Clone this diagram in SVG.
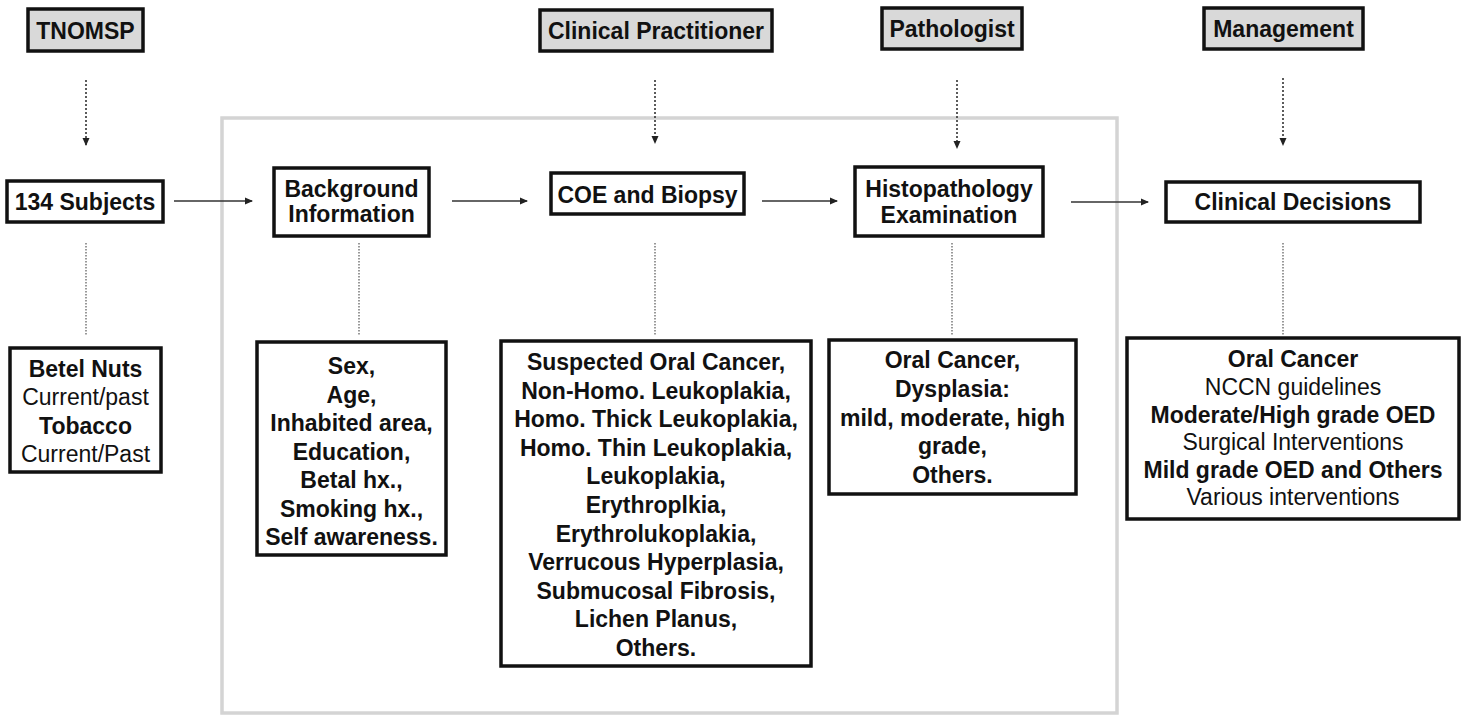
<svg xmlns="http://www.w3.org/2000/svg" width="1465" height="715" viewBox="0 0 1465 715">
<defs>
<style>
.box{fill:#fff;stroke:#111;stroke-width:3.5}
.hdr{fill:#d9d9d9;stroke:#111;stroke-width:3.5}
.frame{fill:none;stroke:#d4d4d4;stroke-width:3.5}
text{font-family:"Liberation Sans",Arial,sans-serif;font-size:23px;fill:#111;text-anchor:middle}
.b{font-weight:bold}
.flow{stroke:#333;stroke-width:1.6;fill:none}
.dot{stroke:#333;stroke-width:1.6;fill:none;stroke-dasharray:2 2}
.dline{stroke:#555;stroke-width:1.2;fill:none;stroke-dasharray:1.5 1.5}
</style>
<marker id="ah" markerWidth="8" markerHeight="8" refX="7" refY="4" orient="auto" markerUnits="userSpaceOnUse">
<path d="M0,0.5 L8,4 L0,7.5 Z" fill="#222"/>
</marker>
</defs>
<rect width="1465" height="715" fill="#fff"/>
<rect class="frame" x="222" y="118" width="895" height="595"/>

<g id="connectors">
<line class="dot" x1="86" y1="80" x2="86" y2="145" marker-end="url(#ah)"/>
<line class="dot" x1="655" y1="80" x2="655" y2="143" marker-end="url(#ah)"/>
<line class="dot" x1="957" y1="80" x2="957" y2="148" marker-end="url(#ah)"/>
<line class="dot" x1="1283" y1="78" x2="1283" y2="145" marker-end="url(#ah)"/>
<line class="flow" x1="174" y1="201" x2="252" y2="201" marker-end="url(#ah)"/>
<line class="flow" x1="452" y1="201" x2="527" y2="201" marker-end="url(#ah)"/>
<line class="flow" x1="762" y1="201" x2="837" y2="201" marker-end="url(#ah)"/>
<line class="flow" x1="1071" y1="202" x2="1148" y2="202" marker-end="url(#ah)"/>
<line class="dline" x1="86" y1="243" x2="86" y2="335"/>
<line class="dline" x1="359" y1="243" x2="359" y2="335"/>
<line class="dline" x1="655" y1="243" x2="655" y2="335"/>
<line class="dline" x1="952" y1="243" x2="952" y2="335"/>
<line class="dline" x1="1283" y1="243" x2="1283" y2="335"/>
</g>

<g id="tnomsp"><rect class="hdr" x="28" y="9" width="115" height="42"/><text class="b" x="85.5" y="39">TNOMSP</text></g>
<g id="clinical-practitioner"><rect class="hdr" x="540" y="10" width="232" height="41"/><text class="b" x="656" y="39">Clinical Practitioner</text></g>
<g id="pathologist"><rect class="hdr" x="882" y="8" width="140" height="41"/><text class="b" x="952" y="37">Pathologist</text></g>
<g id="management"><rect class="hdr" x="1204" y="8" width="159" height="41"/><text class="b" x="1283.5" y="37">Management</text></g>

<g id="subjects"><rect class="box" x="7" y="181" width="156" height="41"/><text class="b" x="85" y="210">134 Subjects</text></g>
<g id="background"><rect class="box" x="274" y="168" width="155" height="68"/><text class="b" x="351.5" y="197">Background</text><text class="b" x="351.5" y="222">Information</text></g>
<g id="coe"><rect class="box" x="551" y="173" width="193" height="41"/><text class="b" x="647.5" y="203">COE and Biopsy</text></g>
<g id="histo"><rect class="box" x="855" y="167" width="188" height="69"/><text class="b" x="949" y="197">Histopathology</text><text class="b" x="949" y="223">Examination</text></g>
<g id="decisions"><rect class="box" x="1166" y="182" width="254" height="40"/><text class="b" x="1293" y="210">Clinical Decisions</text></g>

<g id="risk"><rect class="box" x="10" y="348" width="151" height="124"/>
<text class="b" x="85.5" y="377">Betel Nuts</text>
<text x="85.5" y="405">Current/past</text>
<text class="b" x="85.5" y="434">Tobacco</text>
<text x="85.5" y="462">Current/Past</text></g>

<g id="background-items"><rect class="box" x="257" y="342" width="189" height="213"/>
<text class="b" x="351.5" y="374">Sex,</text>
<text class="b" x="351.5" y="402.5">Age,</text>
<text class="b" x="351.5" y="431">Inhabited area,</text>
<text class="b" x="351.5" y="459.5">Education,</text>
<text class="b" x="351.5" y="488">Betal hx.,</text>
<text class="b" x="351.5" y="516.5">Smoking hx.,</text>
<text class="b" x="351.5" y="545">Self awareness.</text></g>

<g id="coe-items"><rect class="box" x="501" y="341" width="310" height="325"/>
<text class="b" x="656" y="370">Suspected Oral Cancer,</text>
<text class="b" x="656" y="398.6">Non-Homo. Leukoplakia,</text>
<text class="b" x="656" y="427.2">Homo. Thick Leukoplakia,</text>
<text class="b" x="656" y="455.8">Homo. Thin Leukoplakia,</text>
<text class="b" x="656" y="484.4">Leukoplakia,</text>
<text class="b" x="656" y="513">Erythroplkia,</text>
<text class="b" x="656" y="541.6">Erythrolukoplakia,</text>
<text class="b" x="656" y="570.2">Verrucous Hyperplasia,</text>
<text class="b" x="656" y="598.8">Submucosal Fibrosis,</text>
<text class="b" x="656" y="627.4">Lichen Planus,</text>
<text class="b" x="656" y="656">Others.</text></g>

<g id="histo-items"><rect class="box" x="829" y="340" width="247" height="154"/>
<text class="b" x="952.5" y="368">Oral Cancer,</text>
<text class="b" x="952.5" y="397">Dysplasia:</text>
<text class="b" x="952.5" y="425.5">mild, moderate, high</text>
<text class="b" x="952.5" y="454">grade,</text>
<text class="b" x="952.5" y="483">Others.</text></g>

<g id="decision-items"><rect class="box" x="1127" y="338" width="332" height="181"/>
<text class="b" x="1293" y="367">Oral Cancer</text>
<text x="1293" y="395">NCCN guidelines</text>
<text class="b" x="1293" y="422.5">Moderate/High grade OED</text>
<text x="1293" y="450">Surgical Interventions</text>
<text class="b" x="1293" y="478">Mild grade OED and Others</text>
<text x="1293" y="505">Various interventions</text></g>
</svg>
